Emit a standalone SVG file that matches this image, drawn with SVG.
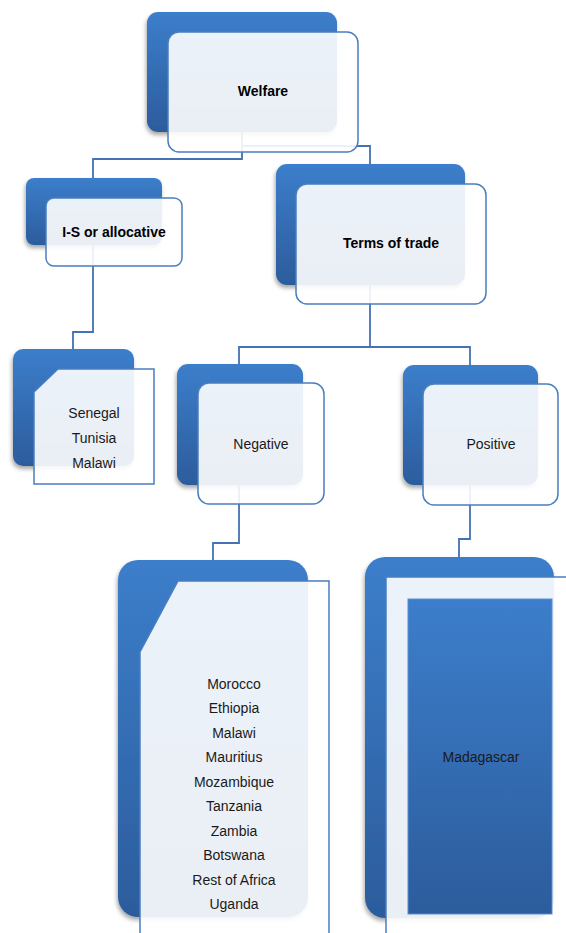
<svg xmlns="http://www.w3.org/2000/svg" width="566" height="933" viewBox="0 0 566 933">
<style>
.back{fill:url(#bg);filter:url(#sh)}
.front{fill:#ffffff;fill-opacity:0.9;stroke:#4A7EBE;stroke-width:1.5}
.conn{fill:none;stroke:#4472B2;stroke-width:1.8}
.lbl{font-family:"Liberation Sans",Arial,sans-serif;font-size:14px;fill:#1a1a1a;text-anchor:middle}
.b{font-weight:bold;fill:#000}
</style>
<defs>
<linearGradient id="bg" x1="0" y1="0" x2="0" y2="1">
<stop offset="0" stop-color="#3C7ECB"/>
<stop offset="1" stop-color="#2C5C9C"/>
</linearGradient>
<filter id="sh" x="-10%" y="-10%" width="120%" height="125%">
<feDropShadow dx="-1" dy="3" stdDeviation="2" flood-color="#000" flood-opacity="0.35"/>
</filter>
</defs>
<g id="connectors">
<path class="conn" d="M242 132 V159 H93 V178"/>
<path class="conn" d="M242 132 V146 H370 V164"/>
<path class="conn" d="M93 245 V332 H73 V349"/>
<path class="conn" d="M370 285 V347 H239 V364"/>
<path class="conn" d="M370 347 H470 V365"/>
<path class="conn" d="M239 485 V543 H213 V560"/>
<path class="conn" d="M470 485 V539 H459 V557"/>
</g>
<g id="welfare">
<rect class="back" x="147" y="12" width="190" height="120" rx="11"/>
<rect class="front" x="168" y="32" width="190" height="120" rx="11"/>
<text class="lbl b" x="263" y="96">Welfare</text>
</g>
<g id="is-allocative">
<rect class="back" x="26" y="178" width="136" height="67" rx="8"/>
<rect class="front" x="46" y="198" width="136" height="68" rx="8"/>
<text class="lbl b" x="114" y="237">I-S or allocative</text>
</g>
<g id="terms-of-trade">
<rect class="back" x="276" y="164" width="189" height="121" rx="11"/>
<rect class="front" x="296" y="184" width="190" height="120" rx="11"/>
<text class="lbl b" x="391" y="248">Terms of trade</text>
</g>
<g id="is-countries">
<rect class="back" x="13" y="349" width="121" height="117" rx="10"/>
<path class="front" d="M34 392 L58 369 H154 V484 H34 Z"/>
<text class="lbl" x="94" y="418">Senegal</text>
<text class="lbl" x="94" y="443">Tunisia</text>
<text class="lbl" x="94" y="468">Malawi</text>
</g>
<g id="negative">
<rect class="back" x="177" y="364" width="126" height="121" rx="11"/>
<rect class="front" x="198" y="383" width="126" height="121" rx="11"/>
<text class="lbl" x="261" y="449">Negative</text>
</g>
<g id="positive">
<rect class="back" x="403" y="365" width="135" height="120" rx="11"/>
<rect class="front" x="423" y="384" width="135" height="121" rx="11"/>
<text class="lbl" x="491" y="449">Positive</text>
</g>
<g id="negative-countries">
<rect class="back" x="118" y="560" width="190" height="357" rx="20"/>
<path class="front" d="M140 652 L178 581 H329 V945 H140 Z"/>
<text class="lbl" x="234" y="689">Morocco</text>
<text class="lbl" x="234" y="713.4">Ethiopia</text>
<text class="lbl" x="234" y="737.9">Malawi</text>
<text class="lbl" x="234" y="762.3">Mauritius</text>
<text class="lbl" x="234" y="786.8">Mozambique</text>
<text class="lbl" x="234" y="811.2">Tanzania</text>
<text class="lbl" x="234" y="835.7">Zambia</text>
<text class="lbl" x="234" y="860.1">Botswana</text>
<text class="lbl" x="234" y="884.6">Rest of Africa</text>
<text class="lbl" x="234" y="909">Uganda</text>
</g>
<g id="positive-countries">
<rect class="back" x="365" y="557" width="189" height="361" rx="20"/>
<path class="front" d="M386 577 H590 V945 H386 Z"/>
<rect x="408" y="599" width="144" height="315" fill="url(#bg)" stroke="#5A8ED0" stroke-width="1"/>
<text class="lbl" x="481" y="762">Madagascar</text>
</g>
</svg>
